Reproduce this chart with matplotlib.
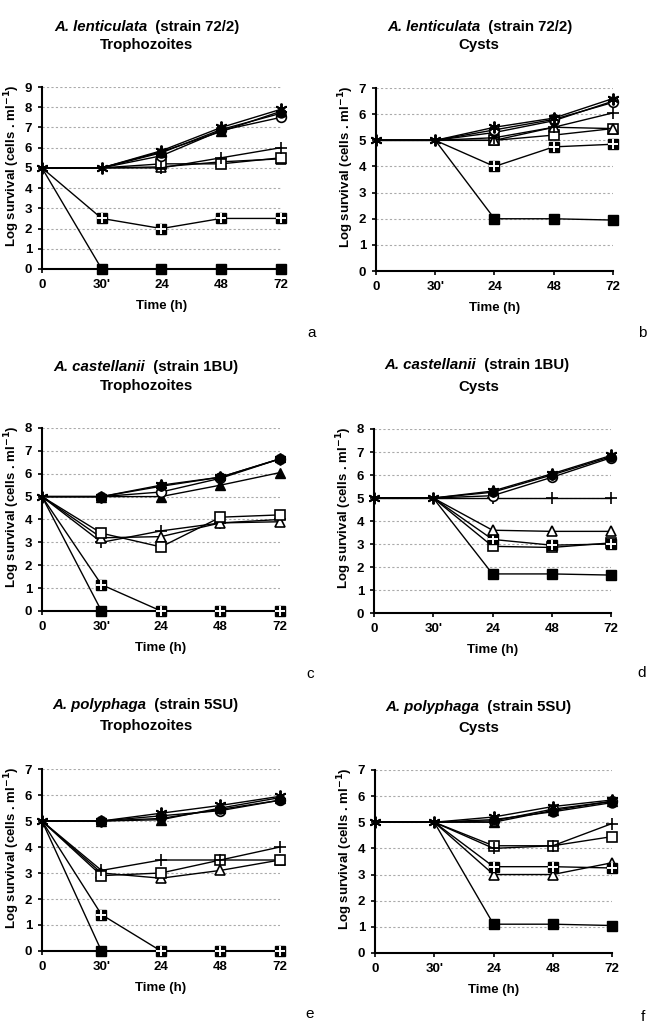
import numpy as np
import matplotlib
matplotlib.use("Agg")
import matplotlib.pyplot as plt

plt.rcParams['font.family'] = ['Liberation Sans', 'DejaVu Sans']

time_labels = ["0", "30'", "24", "48", "72"]

# A. lenticulata trophozoites (a)
a_star = [5, 5, 5.85, 7.0, 7.9]
a_ftri = [5, 5, 5.8, 6.8, 7.8]
a_fcirc = [5, 5, 5.75, 6.9, 7.7]
a_ocirc = [5, 5, 5.6, 6.85, 7.5]
a_plus = [5, 5, 5.0, 5.5, 6.0]
a_osq = [5, 5, 5.2, 5.2, 5.5]
a_otri = [5, 5, 5.05, 5.3, 5.45]
a_hsq = [5, 2.5, 2.0, 2.5, 2.5]
a_fsq = [5, 0, 0, 0, 0]

# A. lenticulata cysts (b)
b_star = [5, 5, 5.5, 5.85, 6.6]
b_ocirc = [5, 5, 5.4, 5.8, 6.45]
b_fcirc = [5, 5, 5.3, 5.75, 6.5]
b_plus = [5, 5, 5.1, 5.5, 6.05]
b_otri = [5, 5, 5.0, 5.5, 5.45]
b_osq = [5, 5, 5.0, 5.2, 5.45]
b_hsq = [5, 5, 4.0, 4.75, 4.85]
b_fsq = [5, 5, 2.0, 2.0, 1.95]

# A. castellanii trophozoites (c)
c_star = [5, 5, 5.5, 5.85, 6.65]
c_ocirc = [5, 5, 5.2, 5.8, 6.65]
c_fcirc = [5, 5, 5.45, 5.85, 6.65]
c_ftri = [5, 5, 5.0, 5.5, 6.05]
c_osq = [5, 3.4, 2.8, 4.1, 4.2]
c_otri = [5, 3.2, 3.25, 3.85, 3.9]
c_plus = [5, 3.0, 3.5, 3.85, 4.0]
c_hsq = [5, 1.15, 0, 0, 0]
c_fsq = [5, 0]

# A. castellanii cysts (d)
d_star = [5, 5, 5.3, 6.05, 6.85]
d_fcirc = [5, 5, 5.25, 6.0, 6.8]
d_ocirc = [5, 5, 5.1, 5.9, 6.75]
d_plus = [5, 5, 5, 5, 5]
d_otri = [5, 5, 3.6, 3.55, 3.55]
d_hsq = [5, 5, 3.2, 2.95, 3.0]
d_osq = [5, 5, 2.9, 2.85, 3.05]
d_fsq = [5, 5, 1.7, 1.7, 1.65]

# A. polyphaga trophozoites (e)
e_star = [5, 5, 5.3, 5.6, 5.95]
e_fcirc = [5, 5, 5.1, 5.45, 5.8]
e_ocirc = [5, 5, 5.2, 5.4, 5.8]
e_ftri = [5, 5, 5.05, 5.5, 5.9]
e_plus = [5, 3.1, 3.5, 3.5, 4.0]
e_osq = [5, 2.9, 3.0, 3.5, 3.5]
e_otri = [5, 3.0, 2.8, 3.1, 3.5]
e_hsq = [5, 1.4, 0, 0, 0]
e_fsq = [5, 0]

# A. polyphaga cysts (f)
f_star = [5, 5, 5.2, 5.6, 5.85]
f_fcirc = [5, 5, 5.1, 5.4, 5.75]
f_ocirc = [5, 5, 5.05, 5.5, 5.8]
f_ftri = [5, 5, 5.0, 5.45, 5.8]
f_plus = [5, 5, 4.0, 4.1, 4.95]
f_osq = [5, 5, 4.1, 4.1, 4.45]
f_hsq = [5, 5, 3.3, 3.3, 3.25]
f_otri = [5, 5, 3.0, 3.0, 3.45]
f_fsq = [5, 5, 1.1, 1.1, 1.05]

STYLES = {
    'star': dict(marker=(6, 2, 0), mfc='black', mec='black', ms=8.5, mew=1.4),
    'fcirc': dict(marker='o', mfc='black', mec='black', ms=6.5),
    'ocirc': dict(marker='o', mfc='white', mec='black', ms=7, mew=1.2),
    'ftri': dict(marker='^', mfc='black', mec='black', ms=7),
    'otri': dict(marker='^', mfc='white', mec='black', ms=7.5, mew=1.2),
    'osq': dict(marker='s', mfc='white', mec='black', ms=7, mew=1.2),
    'plus': dict(marker='+', mfc='black', mec='black', ms=9, mew=1.2),
    'hsq': dict(marker='s', mfc='black', mec='black', ms=7),
    'fsq': dict(marker='s', mfc='black', mec='black', ms=7),
}

# skip: number of leading points where only the asterisk is drawn
panels = [
    dict(species='A. lenticulata', strain='(strain 72/2)', stage='Trophozoites', ymax=9, letter='a', skip=2,
         rect=[0.0633, 0.7391, 0.3605, 0.1765], tx=54, ty=27, sx=147, sy=45, lx=312, ly=333,
         series=[('fsq', a_fsq), ('hsq', a_hsq), ('otri', a_otri), ('osq', a_osq), ('plus', a_plus),
                 ('ocirc', a_ocirc), ('fcirc', a_fcirc), ('ftri', a_ftri), ('star', a_star)]),
    dict(species='A. lenticulata', strain='(strain 72/2)', stage='Cysts', ymax=7, letter='b', skip=2,
         rect=[0.5671, 0.7371, 0.3575, 0.1775], tx=387, ty=27, sx=479, sy=45, lx=642, ly=333,
         series=[('fsq', b_fsq), ('hsq', b_hsq), ('osq', b_osq), ('otri', b_otri), ('plus', b_plus),
                 ('fcirc', b_fcirc), ('ocirc', b_ocirc), ('star', b_star)]),
    dict(species='A. castellanii', strain='(strain 1BU)', stage='Trophozoites', ymax=8, letter='c', skip=1,
         rect=[0.0633, 0.4074, 0.3590, 0.1775], tx=53, ty=367, sx=147, sy=386, lx=310, ly=674,
         series=[('fsq', c_fsq), ('hsq', c_hsq), ('plus', c_plus), ('otri', c_otri), ('osq', c_osq),
                 ('ftri', c_ftri), ('ocirc', c_ocirc), ('fcirc', c_fcirc), ('star', c_star)]),
    dict(species='A. castellanii', strain='(strain 1BU)', stage='Cysts', ymax=8, letter='d', skip=2,
         rect=[0.5641, 0.4054, 0.3575, 0.1785], tx=384, ty=365, sx=479, sy=387, lx=642, ly=673,
         series=[('fsq', d_fsq), ('osq', d_osq), ('hsq', d_hsq), ('otri', d_otri), ('plus', d_plus),
                 ('ocirc', d_ocirc), ('fcirc', d_fcirc), ('star', d_star)]),
    dict(species='A. polyphaga', strain='(strain 5SU)', stage='Trophozoites', ymax=7, letter='e', skip=1,
         rect=[0.0633, 0.0776, 0.3590, 0.1765], tx=52, ty=705, sx=147, sy=726, lx=310, ly=1014,
         series=[('fsq', e_fsq), ('hsq', e_hsq), ('otri', e_otri), ('osq', e_osq), ('plus', e_plus),
                 ('ocirc', e_ocirc), ('fcirc', e_fcirc), ('ftri', e_ftri), ('star', e_star)]),
    dict(species='A. polyphaga', strain='(strain 5SU)', stage='Cysts', ymax=7, letter='f', skip=2,
         rect=[0.5656, 0.0757, 0.3575, 0.1775], tx=385, ty=707, sx=479, sy=728, lx=643, ly=1017,
         series=[('fsq', f_fsq), ('otri', f_otri), ('hsq', f_hsq), ('osq', f_osq), ('plus', f_plus),
                 ('ftri', f_ftri), ('ocirc', f_ocirc), ('fcirc', f_fcirc), ('star', f_star)]),
]

W, H = 663, 1031
fig = plt.figure(figsize=(W / 100, H / 100), dpi=100)
FS = 9.5

for p in panels:
    ax = fig.add_axes(p['rect'])
    for key, vals in p['series']:
        xs = list(range(len(vals)))
        # hide markers that sit under the shared asterisk start point
        shown = xs if key == 'star' else [i for i in xs if i >= p['skip'] or vals[i] != 5]
        shown = [i for i in shown if i > 0 or key == 'star']
        ax.plot(xs, vals, color='black', lw=1.0, clip_on=False, zorder=3,
                markevery=shown, **STYLES[key])
        if key == 'hsq':
            ax.plot(xs, vals, ls='none', marker='+', mec='white', ms=7, mew=1.4,
                    clip_on=False, zorder=3, markevery=shown)
    ax.set_xlim(0, 4)
    ax.set_ylim(0, p['ymax'])
    ax.set_yticks(range(p['ymax'] + 1))
    ax.set_xticks(range(5))
    ax.set_xticklabels(time_labels)
    for yv in range(1, p['ymax'] + 1):
        ax.axhline(yv, color='#aaaaaa', lw=0.8, ls=(0, (2, 2)), zorder=1)
    for s in ['top', 'right']:
        ax.spines[s].set_visible(False)
    for s in ['left', 'bottom']:
        ax.spines[s].set_linewidth(1.5)
        ax.spines[s].set_zorder(2)
    ax.tick_params(direction='out', length=3, width=1.2, labelsize=FS, pad=4)
    for lab in ax.get_xticklabels() + ax.get_yticklabels():
        lab.set_fontweight('bold')
    ax.set_xlabel('Time (h)', fontsize=FS, fontweight='bold', labelpad=7)
    ax.set_ylabel('Log survival (cells . ml$^{\\mathbf{-1}}$)', fontsize=FS, fontweight='bold')
    ax.yaxis.set_label_coords(-0.085, 0.57)

    t = fig.text(p['tx'] / W, 1 - p['ty'] / H, p['species'], fontsize=10.8, fontweight='bold',
                 fontstyle='italic', ha='left', va='center')
    ax.annotate('  ' + p['strain'], xy=(1, 0.5), xycoords=t, fontsize=10.8, fontweight='bold',
                ha='left', va='center', annotation_clip=False)
    fig.text(p['sx'] / W, 1 - p['sy'] / H, p['stage'], fontsize=10.8, fontweight='bold',
             ha='center', va='center')
    fig.text(p['lx'] / W, 1 - p['ly'] / H, p['letter'], fontsize=11, ha='center', va='center')

fig.savefig('out.png', dpi=100, facecolor='white')
